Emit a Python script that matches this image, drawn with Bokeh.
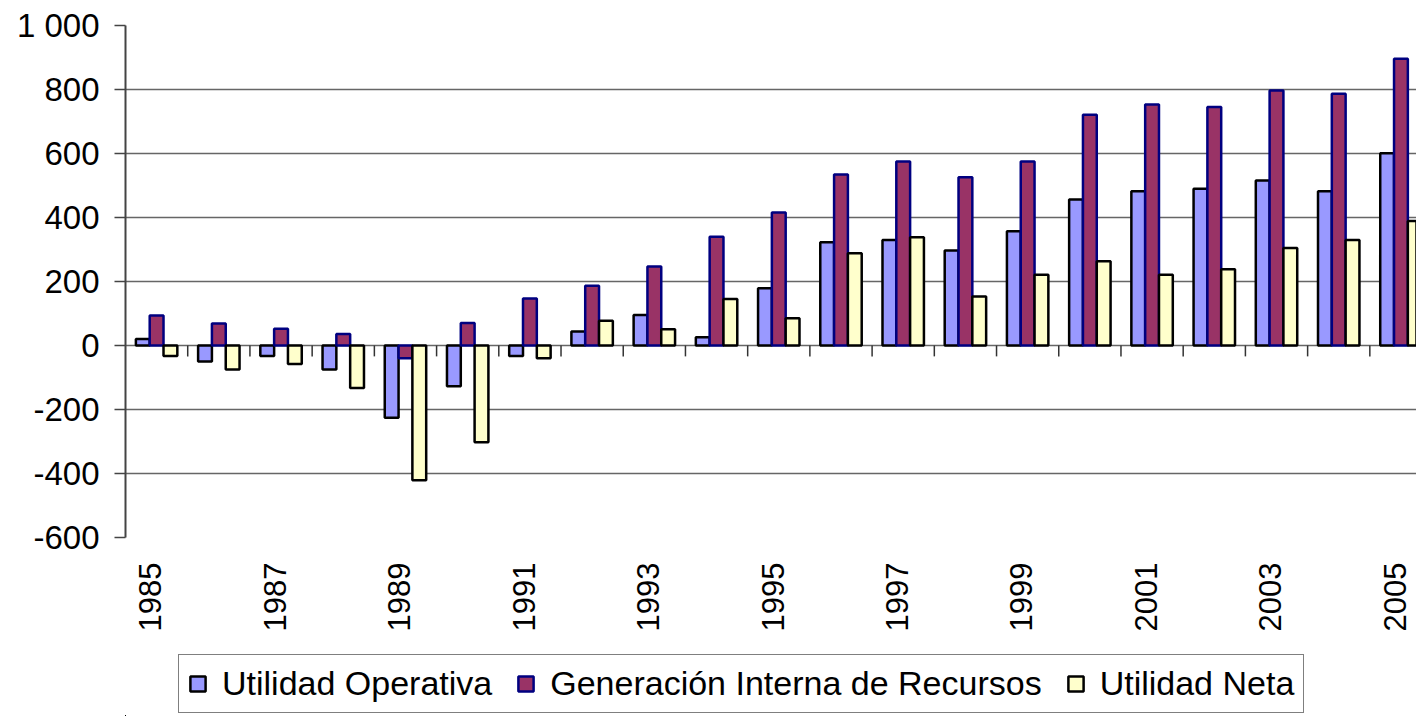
from bokeh.plotting import figure
from bokeh.models import (ColumnDataSource, Range1d, FixedTicker, Legend, LegendItem)
from bokeh.layouts import column
from bokeh.embed import file_html
from bokeh.resources import INLINE
import math

years = [1985, 1986, 1987, 1988, 1989, 1990, 1991, 1992, 1993, 1994, 1995,
         1996, 1997, 1998, 1999, 2000, 2001, 2002, 2003, 2004, 2005]
utilidad_operativa = [20, -50, -33, -75, -226, -127, -33, 44, 95, 26, 179,
                      323, 330, 297, 357, 456, 482, 490, 516, 482, 601]
generacion_interna = [94, 69, 52, 36, -40, 70, 147, 187, 247, 340, 416,
                      534, 575, 526, 575, 721, 753, 745, 797, 787, 896]
utilidad_neta = [-33, -75, -58, -133, -421, -302, -40, 77, 51, 145, 85,
                 288, 338, 153, 221, 263, 221, 238, 305, 330, 389]
series_names = ["Utilidad Operativa", "Generación Interna de Recursos", "Utilidad Neta"]
y_ticks = [-600, -400, -200, 0, 200, 400, 600, 800, 1000]

FONT = "Liberation Sans"
idx = list(range(len(years)))
bw = 0.222
label_shift = 0.1  # year labels sit slightly left of the group centre

src = ColumnDataSource(dict(
    x_uo=[i - bw for i in idx],
    x_gir=list(idx),
    x_un=[i + bw for i in idx],
    uo=utilidad_operativa,
    gir=generacion_interna,
    un=utilidad_neta,
))

styles = [
    dict(fill_color="#9999FF", line_color="black"),
    dict(fill_color="#993366", line_color="#000080"),
    dict(fill_color="#FFFFCC", line_color="black"),
]
cols = [("x_uo", "uo"), ("x_gir", "gir"), ("x_un", "un")]

p = figure(width=1416, height=640, output_backend="svg", toolbar_location=None,
           x_range=Range1d(-0.5, 20.25), y_range=Range1d(-600, 1000),
           min_border_left=125, min_border_right=0, min_border_top=25,
           min_border_bottom=103)
p.outline_line_color = None
p.background_fill_color = "white"
p.border_fill_color = "white"

# grid
p.xgrid.visible = False
p.ygrid.grid_line_color = "#666666"
p.ygrid.grid_line_width = 1.6

# y axis
p.yaxis.ticker = FixedTicker(ticks=y_ticks)
p.yaxis.major_label_overrides = {t: (f"{t:,}".replace(",", " ")) for t in y_ticks}
p.yaxis.major_label_text_font = FONT
p.yaxis.major_label_text_font_size = "33px"
p.yaxis.major_label_text_color = "black"
p.yaxis.major_tick_out = 11
p.yaxis.major_tick_in = 0
p.yaxis.minor_tick_line_color = None
p.yaxis.major_label_standoff = 15
p.yaxis.axis_line_color = "#444444"
p.yaxis.axis_line_width = 2
p.yaxis.major_tick_line_color = "#444444"
p.yaxis.major_tick_line_width = 1.5

# x axis (labels only, at the bottom; every other year)
tick_pos = [i - label_shift for i in idx[::2]]
p.xaxis.ticker = FixedTicker(ticks=tick_pos)
p.xaxis.major_label_overrides = {i - label_shift: str(years[i]) for i in idx[::2]}
p.xaxis.major_label_orientation = math.pi / 2
p.xaxis.major_label_text_font = FONT
p.xaxis.major_label_text_font_size = "31px"
p.xaxis.major_label_text_color = "black"
p.xaxis.axis_line_color = None
p.xaxis.major_tick_line_color = None
p.xaxis.minor_tick_line_color = None
p.xaxis.major_tick_out = 0
p.xaxis.major_tick_in = 0
p.xaxis.major_label_standoff = 25

# category tick marks on the zero line between groups
bounds = [i + 0.5 for i in idx[:-1]]
p.segment(x0=bounds, y0=0, x1=bounds, y1=-34, line_color="#333333", line_width=1.5)

for (xc, yc), st in zip(cols, styles):
    p.vbar(x=xc, top=yc, bottom=0, width=bw, source=src, line_width=2.5, **st)

# legend strip (separate figure so the legend box is not clipped)
q = figure(width=1416, height=76, output_backend="svg", toolbar_location=None,
           x_axis_type=None, y_axis_type=None,
           x_range=Range1d(1000, 1001), y_range=Range1d(5000, 6000),
           min_border_left=0, min_border_right=0, min_border_top=0, min_border_bottom=0)
q.outline_line_color = None
q.xgrid.visible = False
q.ygrid.visible = False
q.background_fill_color = "white"
q.border_fill_color = "white"
leg_renderers = []
for (xc, yc), st in zip(cols, styles):
    leg_renderers.append(q.vbar(x=xc, top=yc, bottom=0, width=bw, source=src,
                                line_width=2.5, **st))

legend = Legend(items=[LegendItem(label=n, renderers=[r]) for n, r in zip(series_names, leg_renderers)],
                location=(53, 3), orientation="horizontal")
legend.label_text_font = FONT
legend.label_text_font_size = "34px"
legend.label_text_color = "black"
legend.glyph_width = 19
legend.glyph_height = 19
legend.label_standoff = 15
legend.spacing = 24
legend.padding = 9
legend.margin = 0
legend.border_line_color = "black"
legend.border_line_width = 1.5
legend.background_fill_color = "white"
legend.background_fill_alpha = 1
q.add_layout(legend, "center")

layout = column(p, q, spacing=0)
open("out.html", "w").write(file_html(layout, INLINE))
